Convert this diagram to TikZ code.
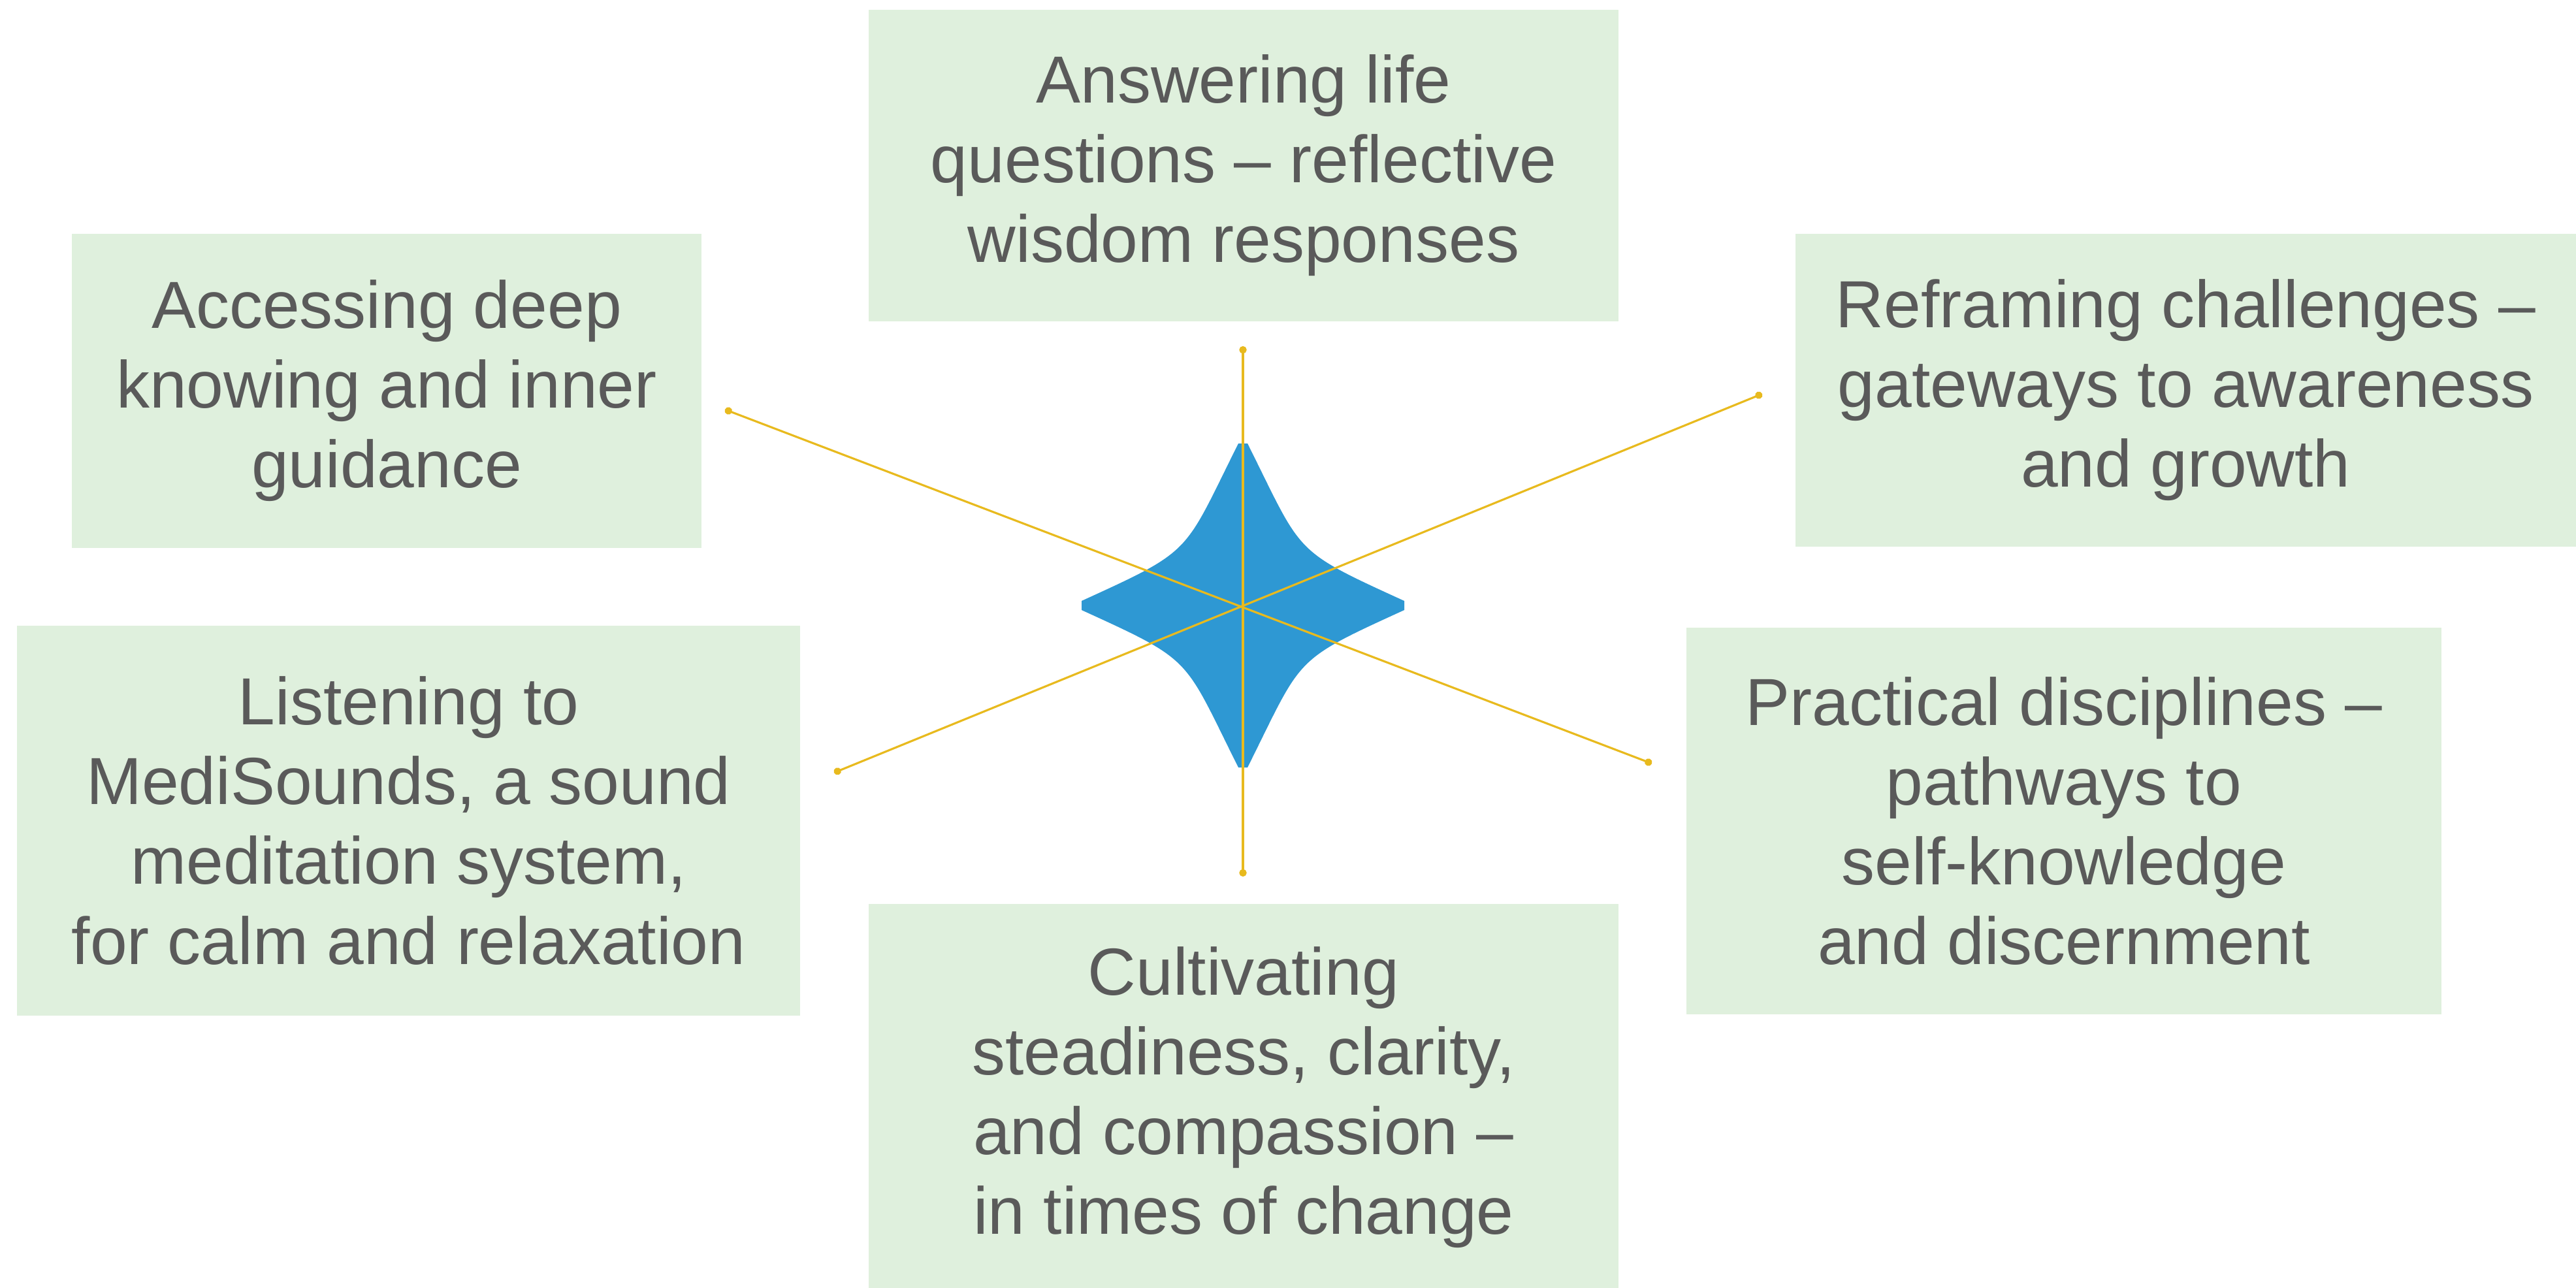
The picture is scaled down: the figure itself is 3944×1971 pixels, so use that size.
\documentclass[tikz,border=0pt]{standalone}
\usepackage{fontspec}
\setmainfont{Liberation Sans}
\usepackage{tikz}
\usetikzlibrary{positioning,arrows.meta}
\definecolor{boxgreen}{HTML}{DFF0DD}
\definecolor{textgray}{HTML}{5A5A5A}
\definecolor{starblue}{HTML}{2E98D3}
\definecolor{spokeyellow}{HTML}{E8BA1E}
\tikzstyle{BOX} = [rectangle, fill=boxgreen, text=textgray, align=center, inner sep=0pt, font=\fontsize{29pt}{34.7pt}\selectfont]
\tikzstyle{SPOKE} = [draw=spokeyellow, line width=0.9pt, {Circle[length=3.2pt]}-{Circle[length=3.2pt]}]
\tikzstyle{STAR} = [fill=starblue]

\begin{document}
\begin{tikzpicture}[x=0.01cm, y=-0.01cm]
% Define
\useasboundingbox (0,0) rectangle (3944,1971);
\coordinate (hub) at (1903,927);
\coordinate (dN) at (1903,530);
\coordinate (dS) at (1903,1342);
\coordinate (dNW) at (1110,627);
\coordinate (dSE) at (2529,1169);
\coordinate (dNE) at (2698,603);
\coordinate (dSW) at (1277,1183);
% Place nodes
\node [BOX, minimum width=11.48cm, minimum height=4.77cm] (answer) at (1904,253.5) {Answering life\\questions – reflective\\wisdom responses};
\node [BOX, minimum width=9.64cm, minimum height=4.81cm] (access) at (592,598.5) {Accessing deep\\knowing and inner\\guidance};
\node [BOX, minimum width=11.95cm, minimum height=4.79cm] (reframe) at (3346.5,597.5) {Reframing challenges –\\gateways to awareness\\and growth};
\node [BOX, minimum width=11.99cm, minimum height=5.97cm] (listen) at (625.5,1256.5) {Listening to\\MediSounds, a sound\\meditation system,\\for calm and relaxation};
\node [BOX, minimum width=11.56cm, minimum height=5.92cm] (practice) at (3160,1257) {Practical disciplines –\\pathways to\\self-knowledge\\and discernment};
\node [BOX, minimum width=11.48cm, minimum height=5.92cm] (cultivate) at (1904,1680) {Cultivating\\steadiness, clarity,\\and compassion –\\in times of change};
% Star
\fill [STAR, shift={(hub)}] (-7,-248) -- (7,-248)
  .. controls (92,-78) and (74,-86) .. (247,-7) -- (247,7)
  .. controls (74,86) and (92,78) .. (7,248) -- (-7,248)
  .. controls (-92,78) and (-74,86) .. (-247,7) -- (-247,-7)
  .. controls (-74,-86) and (-92,-78) .. (-7,-248) -- cycle;
% LINES
\path [SPOKE] (dN) -- (dS);
\path [SPOKE] (dNW) -- (dSE);
\path [SPOKE] (dSW) -- (dNE);
\end{tikzpicture}
\end{document}
